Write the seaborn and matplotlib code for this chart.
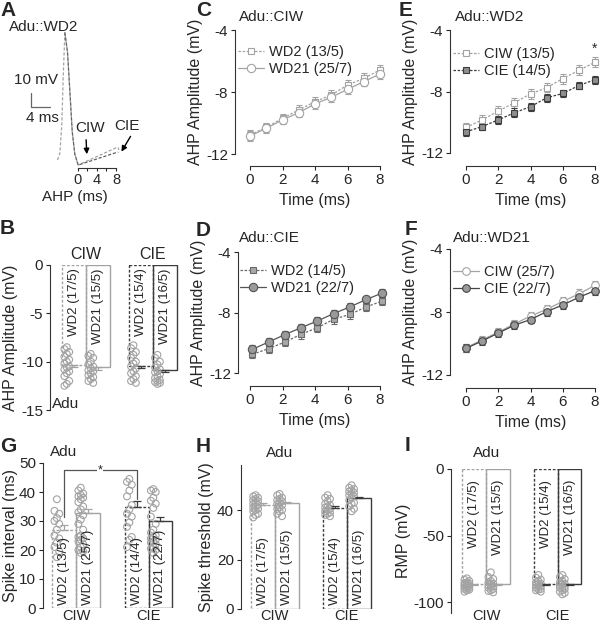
import numpy as np
import pandas as pd
import matplotlib
matplotlib.use('Agg')
import matplotlib.pyplot as plt
from matplotlib.lines import Line2D
import seaborn as sns

sns.set_style('ticks')
plt.rcParams['font.family'] = ['Liberation Sans', 'DejaVu Sans']
plt.rcParams['axes.unicode_minus'] = False
plt.rcParams['axes.edgecolor'] = '#333333'
plt.rcParams['axes.linewidth'] = 0.8

# ---------------- data ----------------
# A: example AP traces (ms, mV)
spike_t = [-4.3, -3.8, -3.4, -3.1, -2.75, -2.2, -1.7, -1.2, -0.65, 0.05]
spike_v = [-50, -45, -25, 10, 41, 27, -1, -30, -46, -53.6]
ahp_end_t = 8.4
ciw_end_v = -40.7
cie_end_v = -44.3

# C-F: AHP amplitude vs time
time_ms = [0, 1, 2, 3, 4, 5, 6, 7, 8]
c_wd2 = [-10.77, -10.28, -9.70, -9.16, -8.62, -8.20, -7.55, -7.12, -6.58]
c_wd2_err = [0.30, 0.30, 0.28, 0.30, 0.30, 0.30, 0.35, 0.32, 0.33]
c_wd21 = [-10.84, -10.34, -9.80, -9.33, -8.77, -8.34, -7.83, -7.33, -6.84]
c_wd21_err = [0.30, 0.28, 0.27, 0.28, 0.30, 0.28, 0.30, 0.30, 0.30]
e_ciw = [-10.34, -9.85, -9.27, -8.73, -8.15, -7.76, -7.16, -6.62, -6.10]
e_ciw_err = [0.30, 0.30, 0.30, 0.32, 0.32, 0.30, 0.32, 0.32, 0.32]
e_cie = [-10.62, -10.28, -9.85, -9.38, -8.99, -8.41, -8.13, -7.61, -7.23]
e_cie_err = [0.25, 0.25, 0.25, 0.28, 0.25, 0.25, 0.25, 0.25, 0.25]
d_wd2 = [-10.76, -10.39, -9.95, -9.44, -9.00, -8.45, -8.12, -7.63, -7.24]
d_wd2_err = [0.28, 0.28, 0.28, 0.28, 0.30, 0.28, 0.28, 0.28, 0.28]
d_wd21 = [-10.43, -9.95, -9.46, -9.00, -8.56, -8.07, -7.63, -7.14, -6.71]
d_wd21_err = [0.25, 0.25, 0.25, 0.25, 0.25, 0.25, 0.25, 0.25, 0.25]
f_ciw = [-10.27, -9.77, -9.28, -8.76, -8.26, -7.83, -7.33, -6.85, -6.31]
f_ciw_err = [0.25, 0.25, 0.25, 0.25, 0.25, 0.25, 0.28, 0.28, 0.28]
f_cie = [-10.31, -9.84, -9.34, -8.84, -8.48, -7.98, -7.55, -7.07, -6.64]
f_cie_err = [0.25, 0.25, 0.25, 0.25, 0.25, 0.25, 0.25, 0.25, 0.25]

# bar panels: order WD2-CIW, WD21-CIW, WD2-CIE, WD21-CIE
conds = ['CIW', 'CIW', 'CIE', 'CIE']
wds = ['WD2', 'WD21', 'WD2', 'WD21']

b_means = [-10.3, -10.6, -10.5, -10.9]
b_sems = [0.25, 0.25, 0.2, 0.2]
b_labels = ['WD2 (17/5)', 'WD21 (15/5)', 'WD2 (15/4)', 'WD21 (16/5)']
b_pts = [
    [-8.5, -8.7, -9.0, -9.2, -9.5, -9.8, -10.0, -10.2, -10.5, -10.6, -10.8, -11.0, -11.2, -11.5, -12.0, -12.3, -12.5],
    [-9.2, -9.4, -9.6, -10.0, -10.3, -10.5, -10.7, -10.9, -11.0, -11.2, -11.4, -11.6, -11.8, -12.0, -12.2],
    [-8.3, -8.6, -9.0, -9.3, -9.6, -10.0, -10.2, -10.5, -10.7, -11.0, -11.2, -11.5, -11.8, -12.0, -12.2],
    [-9.3, -9.6, -10.0, -10.3, -10.6, -10.8, -11.0, -11.1, -11.3, -11.5, -11.7, -11.9, -12.0, -12.1, -12.2, -12.3],
]

g_means = [27.0, 32.6, 34.9, 30.0]
g_sems = [1.5, 1.4, 2.1, 1.5]
g_labels = ['WD2 (13/5)', 'WD21 (25/7)', 'WD2 (14/4)', 'WD21 (22/7)']
g_pts = [
    [37.5, 33.5, 32.5, 31, 30, 29, 27, 25, 24, 22.5, 21, 19.5, 17.5],
    [41.5, 40.5, 39.5, 39, 38.5, 38, 37.5, 36.5, 35, 34, 33, 32, 30.5, 29, 27, 25, 24.5, 24, 23.5, 23, 22, 21, 20, 19.5, 19],
    [44.5, 43.5, 42.5, 40.5, 38.5, 35.5, 34, 32.5, 31.5, 29.5, 28, 24.5, 23.5, 21],
    [41, 40.5, 40, 38, 37, 36, 34.5, 31.5, 29, 27, 26, 25, 24.5, 24, 23.5, 23, 22.5, 22, 21, 20.5, 20, 19],
]

h_means = [42.0, 42.7, 41.0, 44.7]
h_sems = [0.7, 0.7, 0.7, 0.7]
h_labels = ['WD2 (17/5)', 'WD21 (15/5)', 'WD2 (15/4)', 'WD21 (16/5)']
h_pts = [
    [46, 45.5, 45, 44.5, 44, 43.5, 43, 42.5, 42, 41.5, 41, 40.5, 40, 39.5, 38.5, 38, 37],
    [46.5, 46, 45, 44.5, 44, 43.5, 43, 42.5, 42, 41, 40.5, 40, 39.5, 38.5, 37.5],
    [46, 45, 44.5, 43.5, 42.5, 42, 41.5, 41, 40.5, 40, 39.5, 39, 38.5, 38, 37.5],
    [50, 49, 48.5, 48, 47.5, 47, 46.5, 46, 45.5, 45, 44, 43, 42.5, 41.5, 40.5, 39.5],
]

i_means = [-86.0, -86.0, -86.5, -86.5]
i_sems = [0.8, 0.8, 0.8, 0.8]
i_labels = ['WD2 (17/5)', 'WD21 (15/5)', 'WD2 (15/4)', 'WD21 (16/5)']
i_pts = [
    [-82, -83, -84, -85, -85.5, -86, -86.5, -87, -87.5, -88, -88.5, -89, -89.5, -90, -90.5, -91, -92],
    [-77.5, -81, -82.5, -84, -85, -86, -86.5, -87, -88, -88.5, -89, -90, -91, -91.5, -92.5],
    [-79.5, -81.5, -83, -84, -85, -86, -86.5, -87, -88, -88.5, -89, -90, -90.5, -91, -92],
    [-79.5, -81, -82.5, -84, -85, -86, -86.5, -87, -88, -88.5, -89, -90, -91, -92, -93, -94],
]

# ---------------- styles ----------------
LIGHT = '#a3a3a3'
DARK = '#3c3c3c'
MIDFILL = '#8f8f8f'
DOT = (0, (2, 1.3))
BAR_STYLE = [(LIGHT, DOT), (LIGHT, '-'), (DARK, DOT), (DARK, '-')]
PT_POS = [0.2, 0.1, 0.3]

W, H = 600, 626
fig = plt.figure(figsize=(6, 6.26), dpi=100)


def box(x0, y0, x1, y1):
    return fig.add_axes([x0 / W, 1 - y1 / H, (x1 - x0) / W, (y1 - y0) / H])


def ftext(x, y, s, **kw):
    kw.setdefault('fontsize', 11)
    return fig.text(x / W, 1 - y / H, s, **kw)


def panel_letter(x, y, s):
    ftext(x, y, s, fontsize=15, fontweight='bold', ha='left', va='top')


# ---------------- A ----------------
axA = box(10, 10, 125, 175)
axA.set_facecolor('none')
sns.lineplot(x=spike_t + [ahp_end_t], y=spike_v + [ciw_end_v], ax=axA, color=LIGHT,
             linestyle=(0, (2.5, 1.5)), linewidth=0.9, sort=False, errorbar=None)
sns.lineplot(x=spike_t[4:] + [ahp_end_t], y=spike_v[4:] + [cie_end_v], ax=axA, color='#606060',
             linestyle=(0, (2.5, 1.5)), linewidth=0.9, sort=False, errorbar=None)
axA.plot([ahp_end_t, ahp_end_t], [ciw_end_v, cie_end_v], color=LIGHT, lw=0.9, ls=(0, (2, 1.5)))
axA.set_xlim(-14.3, 9.9)
axA.set_ylim(-60.7, 57.1)
for s in ['left', 'right', 'top']:
    axA.spines[s].set_visible(False)
axA.spines['bottom'].set_position(('data', -55.7))
axA.spines['bottom'].set_bounds(0, 8)
axA.set_xticks([0, 4, 8])
axA.set_xticks([2, 6], minor=True)
axA.set_yticks([])
axA.tick_params(axis='x', which='both', length=2.5, width=0.8, labelsize=10.5, pad=1)
# scale bar 10 mV / 4 ms
axA.plot([-9.9, -9.9, -5.9], [-2.1, -12.1, -12.1], color='#666666', lw=0.9)
ftext(36, 80, '10 mV', ha='center', va='center')
ftext(42, 118, '4 ms', ha='center', va='center')
ftext(44, 27, 'Adu::WD2', ha='center', va='center')
ftext(75, 197, 'AHP (ms)', ha='center', va='center')
ftext(90, 128, 'CIW', ha='center', va='center')
ftext(127, 126, 'CIE', ha='center', va='center')
arrow = dict(arrowstyle='-|>', color='black', lw=1.0, mutation_scale=8)
axA.annotate('', xy=((87 - 78) / 4.75, -(157 - 160) / 1.4 - 50),
             xytext=((86 - 78) / 4.75, -(137 - 160) / 1.4 - 50), arrowprops=arrow)
axA.annotate('', xy=((120 - 78) / 4.75, -(154 - 160) / 1.4 - 50),
             xytext=((132 - 78) / 4.75, -(134 - 160) / 1.4 - 50), arrowprops=arrow,
             annotation_clip=False)
panel_letter(0, 1, 'A')


# ---------------- C-F line panels ----------------
def line_axes(x0, y0, x1, y1, off_left, off_bottom):
    ax = box(x0, y0, x1, y1)
    ax.set_facecolor('none')
    ax.set_xlim(0, 8)
    ax.set_ylim(-12, -4)
    sns.despine(ax=ax, offset={'left': off_left * 0.72, 'bottom': off_bottom * 0.72})
    ax.set_xticks([0, 2, 4, 6, 8])
    ax.set_yticks([-12, -8, -4])
    ax.set_xlabel('Time (ms)', fontsize=11.5)
    ax.set_ylabel('AHP Amplitude (mV)', fontsize=11.5, labelpad=2)
    ax.tick_params(length=3, width=0.8, labelsize=11, pad=2)
    return ax


def series(ax, t, m, e, color, face, marker, ms, ls):
    ax.errorbar(t, m, yerr=e, fmt='none', ecolor=color, elinewidth=0.8, capsize=2.2,
                capthick=0.8, clip_on=False, zorder=2)
    sns.lineplot(x=t, y=m, ax=ax, color=color, linestyle=ls, linewidth=0.9, marker=marker,
                 markersize=ms, markerfacecolor=face, markeredgecolor=color,
                 markeredgewidth=0.8, clip_on=False, zorder=3, errorbar=None)
    return Line2D([], [], color=color, linestyle=ls, lw=0.9, marker=marker, markersize=ms,
                  markerfacecolor=face, markeredgecolor=color, markeredgewidth=0.8)


def legend(ax, handles, labels, x, y):
    ax.legend(handles, labels, loc='upper left', bbox_to_anchor=(x / W, 1 - y / H),
              bbox_transform=fig.transFigure, frameon=False, fontsize=10.5,
              handlelength=1.8, handletextpad=0.3, labelspacing=0.2,
              borderpad=0, borderaxespad=0)


# C
axC = line_axes(250, 30, 380, 154, 15, 12)
h1 = series(axC, time_ms, c_wd2, c_wd2_err, LIGHT, 'white', 's', 4.5, DOT)
h2 = series(axC, time_ms, c_wd21, c_wd21_err, LIGHT, 'white', 'o', 6, '-')
legend(axC, [h1, h2], ['WD2 (13/5)', 'WD21 (25/7)'], 238, 45)
ftext(239, 17, 'Adu::CIW', ha='left', va='center')
panel_letter(196, 1, 'C')

# E
axE = line_axes(466, 30, 595, 153, 16, 13)
h1 = series(axE, time_ms, e_ciw, e_ciw_err, LIGHT, 'white', 's', 4.5, DOT)
h2 = series(axE, time_ms, e_cie, e_cie_err, DARK, MIDFILL, 's', 4.5, DOT)
legend(axE, [h1, h2], ['CIW (13/5)', 'CIE (14/5)'], 453, 47)
axE.text(8, -5.2, '*', ha='center', va='center', fontsize=10)
ftext(455, 17, 'Adu::WD2', ha='left', va='center')
panel_letter(399, 1, 'E')

# D
d_shift = 0.15
axD = line_axes(250, 252, 380, 373, 12, 13)
h1 = series(axD, [t + d_shift for t in time_ms], d_wd2, d_wd2_err, '#6a6a6a', '#a8a8a8', 's', 4, DOT)
h2 = series(axD, [t + d_shift for t in time_ms], d_wd21, d_wd21_err, '#555555', '#9a9a9a', 'o', 6, '-')
legend(axD, [h1, h2], ['WD2 (14/5)', 'WD21 (22/7)'], 240, 264)
ftext(239, 238, 'Adu::CIE', ha='left', va='center')
panel_letter(196, 221, 'D')

# F
axF = line_axes(466, 249, 595, 375, 16, 13)
h1 = series(axF, time_ms, f_ciw, f_ciw_err, LIGHT, 'white', 'o', 5.5, '-')
h2 = series(axF, time_ms, f_cie, f_cie_err, '#444444', '#9a9a9a', 'o', 5.5, '-')
legend(axF, [h1, h2], ['CIW (25/7)', 'CIE (22/7)'], 453, 265)
ftext(453, 238, 'Adu::WD21', ha='left', va='center')
panel_letter(405, 220, 'F')


# ---------------- bar panels ----------------
def bar_panel(ax, means, sems, pts, labels, width, text_y, text_va, up):
    df = pd.DataFrame({'cond': conds, 'wd': wds, 'val': means})
    sns.barplot(data=df, x='cond', y='val', hue='wd', order=['CIW', 'CIE'],
                hue_order=['WD2', 'WD21'], width=width, fill=False, errorbar=None,
                legend=False, palette=[LIGHT, LIGHT], ax=ax)
    bars = sorted(ax.patches, key=lambda p: p.get_x())
    centers = []
    for k, p in enumerate(bars):
        col, ls = BAR_STYLE[k]
        p.set_edgecolor(col)
        p.set_facecolor('none')
        p.set_linestyle(ls)
        p.set_linewidth(1.0)
        cx = p.get_x() + p.get_width() / 2
        centers.append(cx)
        xs = [p.get_x() + p.get_width() * PT_POS[j % 3] for j in range(len(pts[k]))]
        sns.scatterplot(x=xs, y=pts[k], ax=ax, s=24, facecolor='none', edgecolor=LIGHT,
                        linewidth=0.8, clip_on=False, zorder=3)
        yerr = [[0], [sems[k]]] if up else [[sems[k]], [0]]
        ax.errorbar([cx], [means[k]], yerr=yerr, fmt='none', ecolor=col, elinewidth=0.9,
                    capsize=3, capthick=0.9, zorder=4)
        ax.text(cx, text_y, labels[k], rotation=90, ha='center', va=text_va,
                fontsize=9.5, zorder=5)
    ax.set_xlabel('')
    ax.set_facecolor('none')
    for s in ['right', 'top', 'bottom']:
        ax.spines[s].set_visible(False)
    ax.tick_params(axis='y', length=3, width=0.8, labelsize=11, pad=2)
    ax.tick_params(axis='x', length=0, labelsize=10.5)
    return centers


# B
axB = box(50, 265, 190, 410)
bar_panel(axB, b_means, b_sems, b_pts, b_labels, 0.72, -0.35, 'top', False)
axB.set_xlim(-0.54, 1.56)
axB.set_ylim(-15, 0)
axB.set_yticks([-15, -10, -5, 0])
axB.set_xticks([])
axB.set_ylabel('AHP Amplitude (mV)', fontsize=11.5, labelpad=2)
for i, c in enumerate(['CIW', 'CIE']):
    axB.text(i, 1.02, c, transform=axB.get_xaxis_transform(), ha='center', va='bottom',
             fontsize=11.5)
ftext(52, 404, 'Adu', ha='left', va='center')
panel_letter(0, 219, 'B')

# G
axG = box(43, 463, 190, 608)
cg = bar_panel(axG, g_means, g_sems, g_pts, g_labels, 0.66, 1.1, 'bottom', True)
axG.set_xlim(-0.455, 1.572)
axG.set_ylim(0, 50)
axG.set_yticks([0, 10, 20, 30, 40, 50])
axG.set_xticks([0, 1])
axG.set_xticklabels(['CIW', 'CIE'])
axG.tick_params(axis='x', pad=0.7)
axG.set_ylabel('Spike interval (ms)', fontsize=11.5, labelpad=1)
axG.plot([cg[0], cg[0], cg[2], cg[2]], [31.5, 47.5, 47.5, 37.5], color='#555555', lw=0.9,
         clip_on=False)
axG.text((cg[0] + cg[2]) / 2, 47.5, '*', ha='center', va='center', fontsize=9,
         bbox=dict(fc='white', ec='none', pad=0.5))
ftext(50, 452, 'Adu', ha='left', va='center')
panel_letter(0, 437, 'G')

# H
axH = box(241, 465, 390, 609)
bar_panel(axH, h_means, h_sems, h_pts, h_labels, 0.667, 1.6, 'bottom', True)
axH.set_xlim(-0.47, 1.60)
axH.set_ylim(0, 58.2)
axH.set_yticks([0, 20, 40])
axH.set_xticks([0, 1])
axH.set_xticklabels(['CIW', 'CIE'])
axH.tick_params(axis='x', pad=0)
axH.set_ylabel('Spike threshold (mV)', fontsize=11.5, labelpad=2)
ftext(280, 453, 'Adu', ha='center', va='center')
panel_letter(196, 437, 'H')

# I
axI = box(451, 469, 600, 613)
bar_panel(axI, i_means, i_sems, i_pts, i_labels, 0.67, -8, 'top', False)
axI.set_xlim(-0.49, 1.594)
axI.set_ylim(-108, 0)
axI.set_yticks([-100, -50, 0])
axI.set_xticks([0, 1])
axI.set_xticklabels(['CIW', 'CIE'])
axI.tick_params(axis='x', pad=-3)
axI.set_ylabel('RMP (mV)', fontsize=11.5, labelpad=2)
ftext(487, 453, 'Adu', ha='center', va='center')
panel_letter(405, 436, 'I')

fig.savefig('out.png', dpi=100)
